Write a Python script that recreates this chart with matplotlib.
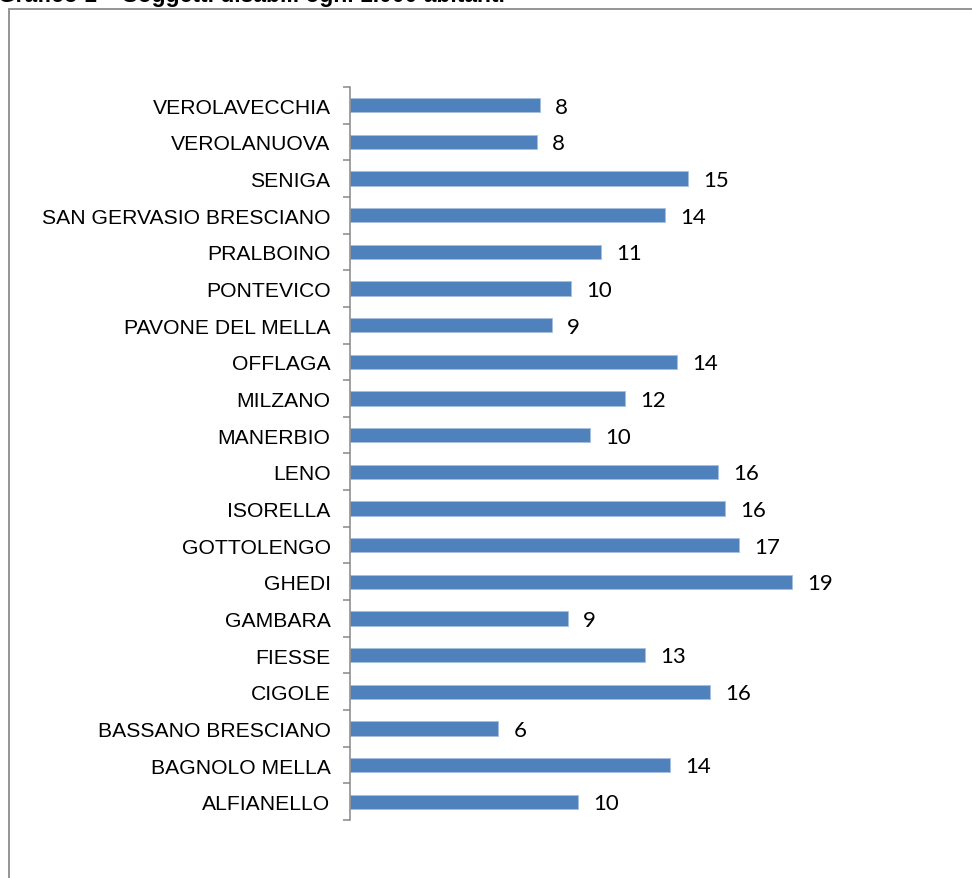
import matplotlib
matplotlib.use("Agg")
import matplotlib.pyplot as plt
from matplotlib.patches import Rectangle
import numpy as np

categories = ["ALFIANELLO", "BAGNOLO MELLA", "BASSANO BRESCIANO", "CIGOLE", "FIESSE",
              "GAMBARA", "GHEDI", "GOTTOLENGO", "ISORELLA", "LENO", "MANERBIO",
              "MILZANO", "OFFLAGA", "PAVONE DEL MELLA", "PONTEVICO", "PRALBOINO",
              "SAN GERVASIO BRESCIANO", "SENIGA", "VEROLANUOVA", "VEROLAVECCHIA"]
values = [9.83, 13.79, 6.38, 15.52, 12.72, 9.40, 19.05, 16.77, 16.16, 15.86, 10.34,
          11.85, 14.09, 8.71, 9.53, 10.82, 13.58, 14.57, 8.06, 8.19]
title = "Grafico 1 – Soggetti disabili ogni 1.000 abitanti"

W, H = 972, 879
fig = plt.figure(figsize=(W / 100, H / 100), dpi=100)

ax_left, ax_right = 350, 900
ax_top, ax_bottom = 88, 821
ax = fig.add_axes([ax_left / W, 1 - ax_bottom / H, (ax_right - ax_left) / W, (ax_bottom - ax_top) / H])

y = np.arange(len(categories))
ax.barh(y, values, height=0.39, color="#4F81BD", edgecolor="#A7BFDE", linewidth=0.6)
ax.set_xlim(0, (ax_right - ax_left) / 23.2)
ax.set_ylim(-0.5, len(categories) - 0.5)

for yi, v in zip(y, values):
    ax.annotate(f"{v:.0f}", xy=(v, yi), xytext=(11, -1), textcoords="offset points",
                va="center", ha="left", fontsize=16, family="Lato", color="black")

ax.set_yticks(y)
ax.set_yticklabels(categories, family="Liberation Sans", fontsize=15.2)
ax.set_yticks(np.arange(len(categories) + 1) - 0.5, minor=True)
ax.tick_params(axis="y", which="major", length=0, pad=14)
ax.tick_params(axis="y", which="minor", length=5, width=1.1, color="#888888", direction="out")
ax.set_xticks([])
for s in ["top", "right", "bottom"]:
    ax.spines[s].set_visible(False)
ax.spines["left"].set_color("#888888")
ax.spines["left"].set_linewidth(1.1)

# outer chart border (extends beyond figure edges)
fig.patches.append(Rectangle((8.5 / W, -0.1), 1.2, 1 - 9.5 / H + 0.1,
                             transform=fig.transFigure, fill=False,
                             edgecolor="#8C8C8C", linewidth=1.3, clip_on=False))

fig.text(-2 / W, 1 - 2 / H, title, ha="left", va="baseline", fontsize=16.5,
         fontweight="bold", family="Liberation Sans")

fig.savefig("out.png", dpi=100)
